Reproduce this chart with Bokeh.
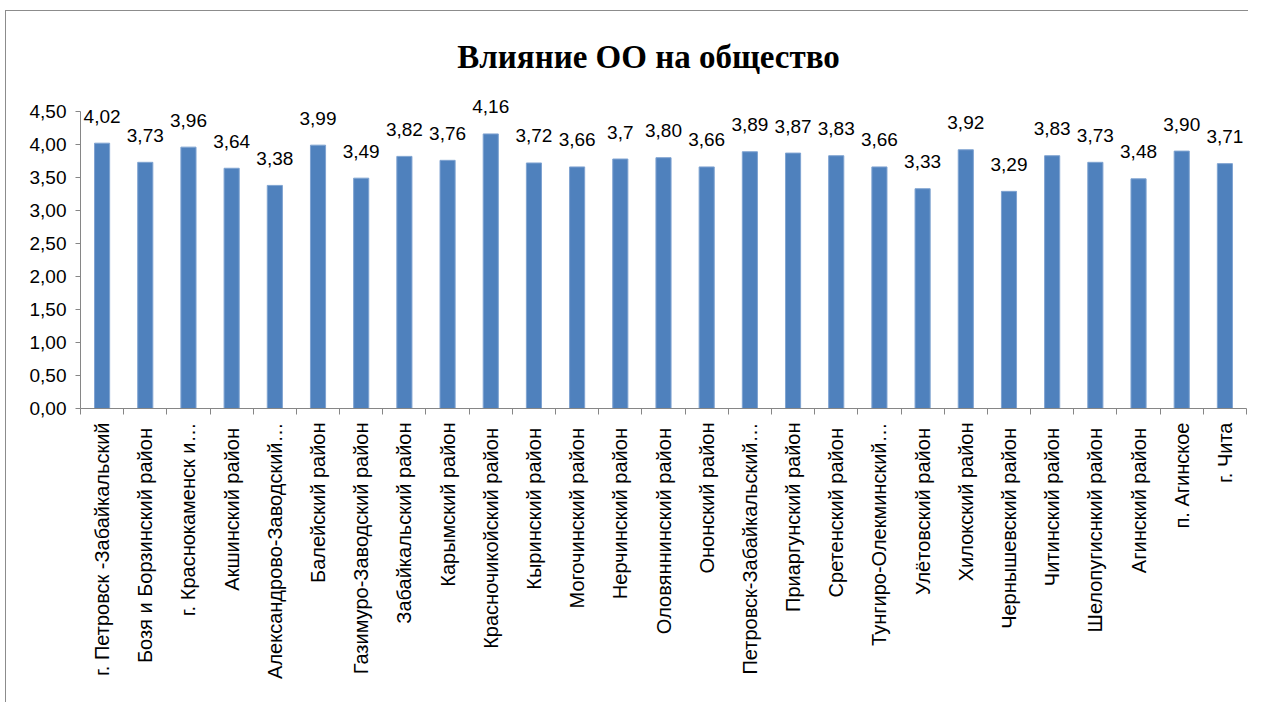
import numpy as np
from bokeh.plotting import figure
from bokeh.models import Range1d, FixedTicker, ColumnDataSource, LabelSet, Label
from bokeh.core.properties import value
from bokeh.embed import file_html
from bokeh.resources import INLINE

title_text = "Влияние ОО на общество"
categories = [
    "г. Петровск -Забайкальский", "Бозя и Борзинский  район", "г. Краснокаменск и…",
    "Акшинский  район", "Александрово-Заводский…", "Балейский район",
    "Газимуро-Заводский район", "Забайкальский район", "Карымский район",
    "Красночикойский  район", "Кыринский  район", "Могочинский  район",
    "Нерчинский  район", "Оловяннинский  район", "Ононский район",
    "Петровск-Забайкальский…", "Приаргунский район", "Сретенский  район",
    "Тунгиро-Олекминский…", "Улётовский  район", "Хилокский район",
    "Чернышевский  район", "Читинский  район", "Шелопугиснкий  район",
    "Агинский  район", "п. Агинское", "г. Чита",
]
values = [4.02, 3.73, 3.96, 3.64, 3.38, 3.99, 3.49, 3.82, 3.76, 4.16, 3.72, 3.66,
          3.78, 3.80, 3.66, 3.89, 3.87, 3.83, 3.66, 3.33, 3.92, 3.29, 3.83, 3.73,
          3.48, 3.90, 3.71]
value_labels = ["4,02", "3,73", "3,96", "3,64", "3,38", "3,99", "3,49", "3,82", "3,76",
                "4,16", "3,72", "3,66", "3,7", "3,80", "3,66", "3,89", "3,87", "3,83",
                "3,66", "3,33", "3,92", "3,29", "3,83", "3,73", "3,48", "3,90", "3,71"]
y_ticks = [0.0, 0.5, 1.0, 1.5, 2.0, 2.5, 3.0, 3.5, 4.0, 4.5]
y_tick_labels = ["0,00", "0,50", "1,00", "1,50", "2,00", "2,50", "3,00", "3,50", "4,00", "4,50"]

n = len(categories)
centers = (np.arange(n) + 0.5).tolist()
bounds = np.arange(n + 1).tolist()
y_max = y_ticks[-1]

# layout (pixels): frame from top 10 to 408; axis scale 66 px per unit
frame_top, frame_bottom, px_per_unit = 10, 408, 66.0
y_view_end = (frame_bottom - frame_top) / px_per_unit

src = ColumnDataSource(dict(x=centers, top=values, lab=value_labels))

p = figure(width=1248, height=702, output_backend="svg", toolbar_location=None,
           x_range=Range1d(0, n), y_range=Range1d(0, y_view_end),
           min_border_left=80, min_border_right=2, min_border_top=frame_top,
           min_border_bottom=702 - frame_bottom, border_fill_color=None,
           background_fill_color=None)

p.vbar(x="x", top="top", width=0.35, source=src, fill_color="#4F81BD",
       line_color="#7FA3D1", line_width=1)

labels = LabelSet(x="x", y="top", text="lab", source=src, text_align="center",
                  text_baseline="middle", y_offset=27,
                  text_font_size=value("19px"),
                  text_font=value("Liberation Sans"), text_color="#000000")
p.add_layout(labels)

title_x = (648 - 80) / ((1246 - 80) / n)
title_y = (frame_bottom - 56) / px_per_unit
p.add_layout(Label(x=title_x, y=title_y, text=title_text, text_align="center",
                   text_baseline="middle", text_font="Liberation Serif",
                   text_font_size="33px", text_font_style="bold", text_color="#000000"))

p.xgrid.visible = False
p.ygrid.visible = False
p.outline_line_color = None

xa = p.xaxis[0]
xa.ticker = FixedTicker(ticks=centers, minor_ticks=bounds)
xa.major_label_overrides = {c: name for c, name in zip(centers, categories)}
xa.major_label_orientation = np.pi / 2
xa.major_tick_line_color = None
xa.minor_tick_line_color = "#868686"
xa.minor_tick_out = 6
xa.minor_tick_in = 0
xa.axis_line_color = "#868686"
xa.major_label_text_font = "Liberation Sans"
xa.major_label_text_font_size = "20px"
xa.major_label_text_color = "#000000"
xa.major_label_standoff = 8

ya = p.yaxis[0]
ya.ticker = FixedTicker(ticks=y_ticks, minor_ticks=[])
ya.bounds = (0, y_max)
ya.major_label_overrides = {t: s for t, s in zip(y_ticks, y_tick_labels)}
ya.axis_line_color = "#868686"
ya.major_tick_line_color = "#868686"
ya.major_tick_out = 5
ya.major_tick_in = 0
ya.minor_tick_line_color = None
ya.major_label_text_font = "Liberation Sans"
ya.major_label_text_font_size = "19px"
ya.major_label_text_color = "#000000"
ya.major_label_standoff = 9

p.styles = {
    "background": "linear-gradient(#8c8c8c, #8c8c8c) 5px 10px / 1px calc(100% - 10px) no-repeat, "
                  "linear-gradient(#8c8c8c, #8c8c8c) 5px 10px / calc(100% - 5px) 1px no-repeat, white"
}

open("out.html", "w").write(file_html(p, INLINE))
